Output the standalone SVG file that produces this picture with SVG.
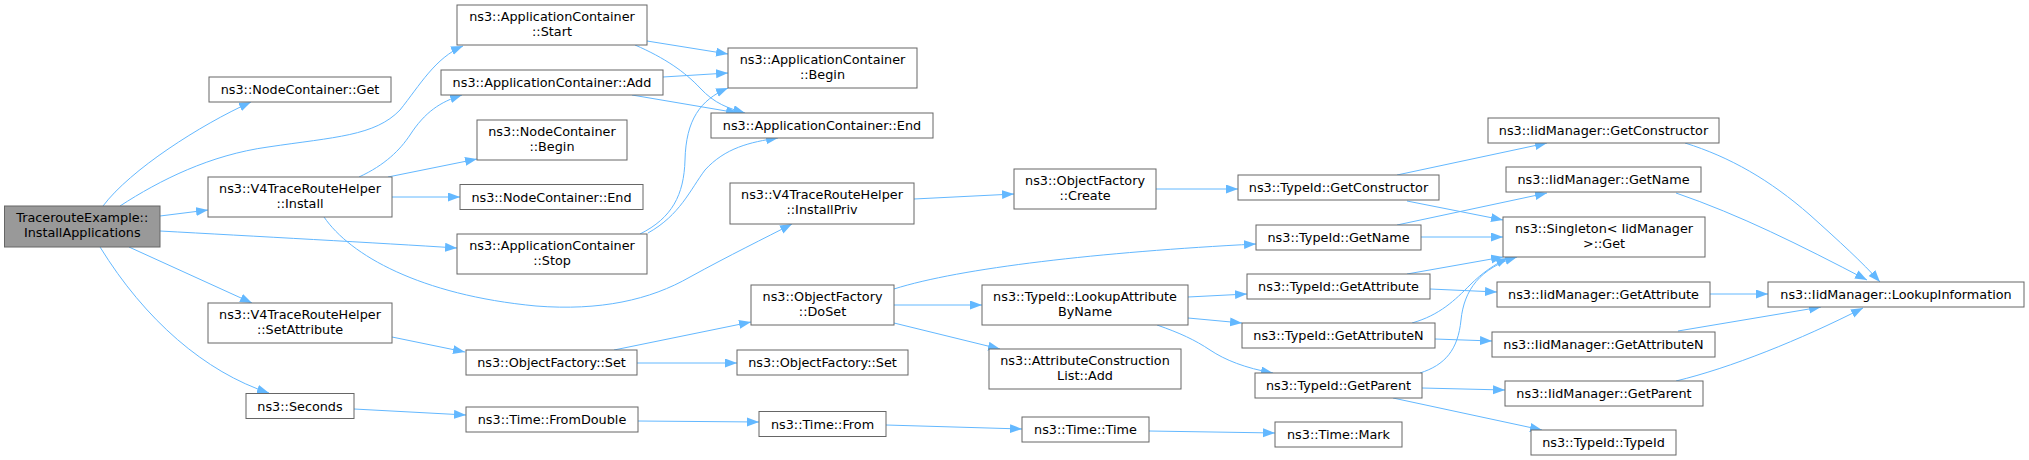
<svg xmlns="http://www.w3.org/2000/svg" width="2029" height="460" viewBox="0 0 2029 460">
<style>
.node rect{fill:#ffffff;stroke:#666666;stroke-width:1}
.root rect{fill:#999999;stroke:#666666;stroke-width:1}
text{font-family:"DejaVu Sans","Liberation Sans",sans-serif;font-size:12.8px;text-anchor:middle;fill:#000000}
.edges path{fill:none;stroke:#63b8ff;stroke-width:1;marker-end:url(#ah)}
</style>
<defs>
<marker id="ah" markerUnits="userSpaceOnUse" markerWidth="13" markerHeight="10" viewBox="0 0 13 10" refX="12" refY="4.5" orient="auto">
<path d="M0,0 L12,4.5 L0,9 z" fill="#63b8ff" stroke="none"/>
</marker>
</defs>
<rect width="2029" height="460" fill="#ffffff"/>
<g class="edges">
<path d="M103,206 C130,170 200,125 251,102"/>
<path d="M120,206 C160,180 210,155 268,147 C335,137 375,136 400,110 C420,85 435,58 463,46"/>
<path d="M160,216 L208,210"/>
<path d="M160,231 C250,236 380,243 457,248"/>
<path d="M129,247 L252,303"/>
<path d="M100,247 C145,320 205,372 269,393"/>
<path d="M359,177 C385,165 400,150 410,135 C425,112 440,102 462,95"/>
<path d="M388,177 L477,159"/>
<path d="M392,197 L460,197"/>
<path d="M324,217 C350,255 420,295 536,306 C600,311 650,300 690,277 C730,255 765,238 792,224"/>
<path d="M647,41 L728,54"/>
<path d="M635,45 C665,58 685,72 700,88 C715,104 728,108 745,113"/>
<path d="M663,77 L728,73"/>
<path d="M632,95 L738,113"/>
<path d="M640,234 C672,218 684,195 685,160 C686,120 700,100 728,88"/>
<path d="M648,233 C680,215 690,190 705,170 C725,148 750,142 778,138"/>
<path d="M392,337 L465,352"/>
<path d="M614,350 L751,322"/>
<path d="M637,363 L737,363"/>
<path d="M354,409 L466,415"/>
<path d="M638,421 L759,422"/>
<path d="M886,425 L1022,429"/>
<path d="M1149,431 L1275,433"/>
<path d="M914,199 L1014,194"/>
<path d="M1156,189 L1238,189"/>
<path d="M894,289 C960,268 1100,252 1256,244"/>
<path d="M894,305 L982,305"/>
<path d="M894,323 L1000,349"/>
<path d="M1188,297 L1247,294"/>
<path d="M1188,318 L1242,323"/>
<path d="M1157,325 C1180,333 1195,340 1210,350 C1225,360 1245,368 1273,373"/>
<path d="M1397,175 L1547,143"/>
<path d="M1407,201 L1503,220"/>
<path d="M1397,225 L1547,193"/>
<path d="M1421,237 L1503,237"/>
<path d="M1407,274 L1503,257"/>
<path d="M1430,289 L1497,292"/>
<path d="M1412,323 C1440,315 1455,300 1470,285 C1482,273 1495,264 1508,258"/>
<path d="M1435,339 L1492,341"/>
<path d="M1420,373 C1445,365 1458,350 1461,320 C1464,290 1480,268 1517,257"/>
<path d="M1422,388 L1505,390"/>
<path d="M1393,398 L1542,430"/>
<path d="M1685,143 C1730,157 1770,180 1810,215 C1840,242 1862,262 1880,282"/>
<path d="M1676,193 C1740,215 1800,245 1867,280"/>
<path d="M1710,294 L1768,294"/>
<path d="M1678,331 L1821,307"/>
<path d="M1676,381 C1730,368 1800,340 1863,308"/>
</g>
<g id="n_traceroute" class="root"><rect x="4.5" y="206" width="155.5" height="41"/><text x="82.25" y="222">TracerouteExample::</text><text x="82.25" y="237">InstallApplications</text></g>
<g id="n_nc_get" class="node"><rect x="209" y="77" width="182" height="25"/><text x="300" y="94">ns3::NodeContainer::Get</text></g>
<g id="n_ac_start" class="node"><rect x="457" y="5" width="190" height="40"/><text x="552" y="21">ns3::ApplicationContainer</text><text x="552" y="36">::Start</text></g>
<g id="n_ac_add" class="node"><rect x="441" y="70" width="222" height="25"/><text x="552" y="87">ns3::ApplicationContainer::Add</text></g>
<g id="n_nc_begin" class="node"><rect x="477" y="120" width="150" height="40"/><text x="552" y="136">ns3::NodeContainer</text><text x="552" y="151">::Begin</text></g>
<g id="n_nc_end" class="node"><rect x="460" y="184.5" width="183" height="25"/><text x="551.5" y="201.5">ns3::NodeContainer::End</text></g>
<g id="n_ac_stop" class="node"><rect x="457" y="234" width="190" height="40"/><text x="552" y="250">ns3::ApplicationContainer</text><text x="552" y="265">::Stop</text></g>
<g id="n_v4_install" class="node"><rect x="208" y="177" width="184" height="40"/><text x="300" y="193">ns3::V4TraceRouteHelper</text><text x="300" y="208">::Install</text></g>
<g id="n_v4_setattr" class="node"><rect x="208" y="303" width="184" height="40"/><text x="300" y="319">ns3::V4TraceRouteHelper</text><text x="300" y="334">::SetAttribute</text></g>
<g id="n_seconds" class="node"><rect x="246" y="393.5" width="108" height="25"/><text x="300" y="410.5">ns3::Seconds</text></g>
<g id="n_of_set1" class="node"><rect x="466" y="350" width="171" height="25"/><text x="551.5" y="367">ns3::ObjectFactory::Set</text></g>
<g id="n_fromdouble" class="node"><rect x="466" y="407" width="172" height="25"/><text x="552" y="424">ns3::Time::FromDouble</text></g>
<g id="n_ac_begin" class="node"><rect x="728" y="48" width="189" height="40"/><text x="822.5" y="64">ns3::ApplicationContainer</text><text x="822.5" y="79">::Begin</text></g>
<g id="n_ac_end" class="node"><rect x="711" y="113" width="222" height="25"/><text x="822" y="130">ns3::ApplicationContainer::End</text></g>
<g id="n_v4_installpriv" class="node"><rect x="730" y="183" width="184" height="41"/><text x="822" y="199">ns3::V4TraceRouteHelper</text><text x="822" y="214">::InstallPriv</text></g>
<g id="n_of_create" class="node"><rect x="1014" y="169" width="142" height="40"/><text x="1085" y="185">ns3::ObjectFactory</text><text x="1085" y="200">::Create</text></g>
<g id="n_tid_getconstructor" class="node"><rect x="1238" y="175" width="201" height="25"/><text x="1338.5" y="192">ns3::TypeId::GetConstructor</text></g>
<g id="n_of_doset" class="node"><rect x="751" y="285" width="143" height="40"/><text x="822.5" y="301">ns3::ObjectFactory</text><text x="822.5" y="316">::DoSet</text></g>
<g id="n_tid_lookup" class="node"><rect x="982" y="285" width="206" height="40"/><text x="1085" y="301">ns3::TypeId::LookupAttribute</text><text x="1085" y="316">ByName</text></g>
<g id="n_of_set2" class="node"><rect x="737" y="350" width="171" height="25"/><text x="822.5" y="367">ns3::ObjectFactory::Set</text></g>
<g id="n_acl_add" class="node"><rect x="989" y="349" width="192" height="40"/><text x="1085" y="365">ns3::AttributeConstruction</text><text x="1085" y="380">List::Add</text></g>
<g id="n_time_from" class="node"><rect x="759" y="411.5" width="127" height="25"/><text x="822.5" y="428.5">ns3::Time::From</text></g>
<g id="n_time_time" class="node"><rect x="1022" y="417" width="127" height="25"/><text x="1085.5" y="434">ns3::Time::Time</text></g>
<g id="n_tid_getname" class="node"><rect x="1256" y="225" width="165" height="25"/><text x="1338.5" y="242">ns3::TypeId::GetName</text></g>
<g id="n_tid_getattribute" class="node"><rect x="1247" y="274" width="183" height="25"/><text x="1338.5" y="291">ns3::TypeId::GetAttribute</text></g>
<g id="n_tid_getattributen" class="node"><rect x="1242" y="323" width="193" height="25"/><text x="1338.5" y="340">ns3::TypeId::GetAttributeN</text></g>
<g id="n_tid_getparent" class="node"><rect x="1255" y="373" width="167" height="25"/><text x="1338.5" y="390">ns3::TypeId::GetParent</text></g>
<g id="n_time_mark" class="node"><rect x="1275" y="422" width="127" height="25"/><text x="1338.5" y="439">ns3::Time::Mark</text></g>
<g id="n_iid_getconstructor" class="node"><rect x="1488" y="118" width="231" height="25"/><text x="1603.5" y="135">ns3::IidManager::GetConstructor</text></g>
<g id="n_iid_getname" class="node"><rect x="1506" y="167" width="195" height="25"/><text x="1603.5" y="184">ns3::IidManager::GetName</text></g>
<g id="n_singleton_get" class="node"><rect x="1503" y="217" width="202" height="40"/><text x="1604" y="233">ns3::Singleton&lt; IidManager</text><text x="1604" y="248">&gt;::Get</text></g>
<g id="n_iid_getattribute" class="node"><rect x="1497" y="282" width="213" height="25"/><text x="1603.5" y="299">ns3::IidManager::GetAttribute</text></g>
<g id="n_iid_getattributen" class="node"><rect x="1492" y="332" width="223" height="25"/><text x="1603.5" y="349">ns3::IidManager::GetAttributeN</text></g>
<g id="n_iid_getparent" class="node"><rect x="1505" y="381" width="198" height="25"/><text x="1604" y="398">ns3::IidManager::GetParent</text></g>
<g id="n_tid_typeid" class="node"><rect x="1531" y="430" width="145" height="25"/><text x="1603.5" y="447">ns3::TypeId::TypeId</text></g>
<g id="n_iid_lookupinfo" class="node"><rect x="1768" y="282" width="256" height="25"/><text x="1896" y="299">ns3::IidManager::LookupInformation</text></g>
</svg>
